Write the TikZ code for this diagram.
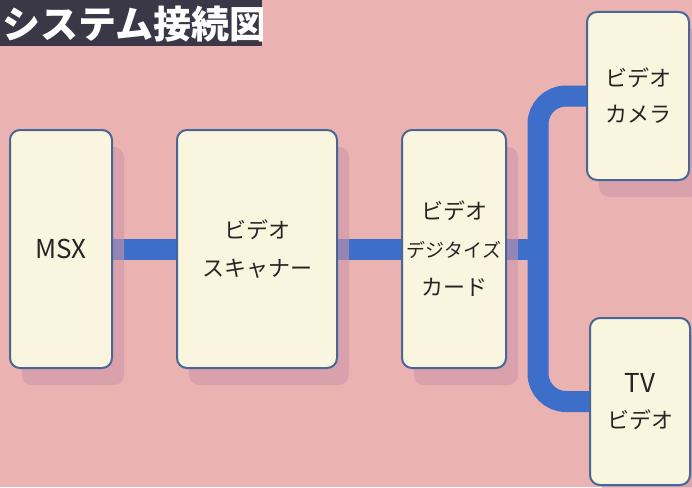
\documentclass[tikz,border=0pt]{standalone}
\usepackage{fontspec}
\setmainfont{Noto Sans CJK JP}
\usetikzlibrary{shadows}
\definecolor{bgpink}{RGB}{234,178,177}
\definecolor{boxfill}{RGB}{250,245,222}
\definecolor{boxline}{RGB}{72,102,150}
\definecolor{wireblue}{RGB}{60,110,202}
\definecolor{shadowc}{RGB}{205,150,168}
\definecolor{titlebar}{RGB}{58,56,70}
\definecolor{txt}{RGB}{38,36,36}
\pgfdeclarelayer{back}
\pgfdeclarelayer{wires}
\pgfsetlayers{back,wires,main}
\begin{document}
\begin{tikzpicture}[x=1pt,y=-1pt,
  box/.style={draw=boxline, line width=2pt, fill=boxfill, rounded corners=10pt,
    inner sep=0pt, align=center, text=txt,
    font=\fontsize{22}{38}\selectfont,
    drop shadow={shadow xshift=12pt, shadow yshift=-17pt, fill=shadowc, opacity=0.6}},
  wire/.style={draw=wireblue, line width=21pt}]
\useasboundingbox (0,0) rectangle (692,487);
\begin{pgfonlayer}{back}
\fill[bgpink] (0,0) rectangle (692,487);
\end{pgfonlayer}
% title
\fill[titlebar] (0,0) rectangle (262,46);
\begin{scope}
\clip (0,0) rectangle (262,46);
\node[anchor=west, text=white, inner sep=0pt, font=\fontsize{38}{40}\selectfont\bfseries] (title) at (2,24) {システム接続図};
\end{scope}
% boxes
\node[box, minimum width=102pt, minimum height=238pt] (msx) at (61,249) {\fontsize{26}{30}\selectfont MSX};
\node[box, minimum width=160pt, minimum height=238pt] (scan) at (257,249) {ビデオ\\スキャナー};
\node[box, minimum width=104pt, minimum height=238pt] (card) at (454,249) {ビデオ\\{\fontsize{19}{38}\selectfont デジタイズ}\\カード};
\node[box, minimum width=102pt, minimum height=168pt, font=\fontsize{22}{36}\selectfont] (cam) at (638,96) {ビデオ\\カメラ};
\node[box, minimum width=100pt, minimum height=167pt, font=\fontsize{22}{36}\selectfont] (tv) at (640,401.5) {\fontsize{26}{36}\selectfont TV\\ビデオ};
\coordinate (bus) at (538,250);
% wires
\begin{pgfonlayer}{wires}
\draw[wire] (msx.east) -- (scan.west);
\draw[wire] (scan.east) -- (card.west);
\draw[wire] (card.east) -- (card.east -| bus);
\draw[wire, rounded corners=28pt] (cam.west) -- (cam.west -| bus) -- (tv.west -| bus) -- (tv.west);
\end{pgfonlayer}
\end{tikzpicture}
\end{document}
